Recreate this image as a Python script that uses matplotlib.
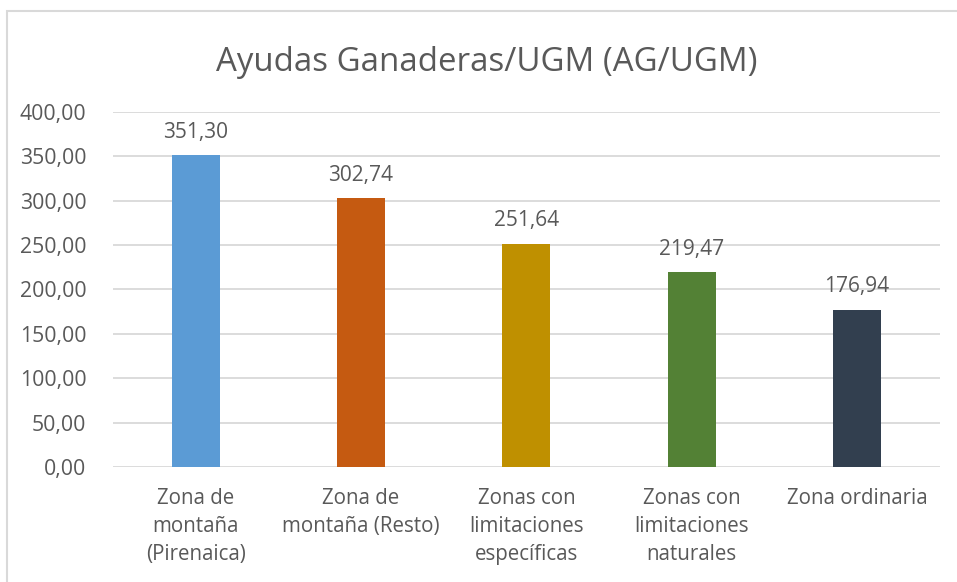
import matplotlib
import matplotlib.pyplot as plt
from matplotlib.patches import Rectangle

matplotlib.use("Agg")

categories = [
    "Zona de\nmontaña\n(Pirenaica)",
    "Zona de\nmontaña (Resto)",
    "Zonas con\nlimitaciones\nespecíficas",
    "Zonas con\nlimitaciones\nnaturales",
    "Zona ordinaria",
]
values = [351.30, 302.74, 251.64, 219.47, 176.94]
colors = ["#5B9BD5", "#C55A11", "#BF9000", "#538135", "#323F4F"]
yticks = [0, 50, 100, 150, 200, 250, 300, 350, 400]

text_color = "#595959"
grid_color = "#D9D9D9"


def fmt(v):
    return f"{v:.2f}".replace(".", ",")


plt.rcParams["font.family"] = ["Open Sans", "DejaVu Sans"]

fig = plt.figure(figsize=(9.57, 5.82), dpi=100)
ax = fig.add_axes([0.118, 0.1976, 0.864, 0.61])

x = list(range(len(values)))
bars = ax.bar(x, values, width=0.29, color=colors, zorder=3)

for b, v in zip(bars, values):
    ax.annotate(fmt(v), (b.get_x() + b.get_width() / 2, v),
                xytext=(0, 9), textcoords="offset points",
                ha="center", va="bottom", fontsize=15, color=text_color)

ax.set_xlim(-0.5, len(values) - 0.5)
ax.set_ylim(0, 400)
ax.set_yticks(yticks)
ax.set_yticklabels([fmt(t) for t in yticks], fontsize=15.3, color=text_color)
ax.set_xticks(x)
ax.set_xticklabels(categories, fontsize=14.8, color=text_color, linespacing=1.45, va="top")
ax.tick_params(axis="both", length=0)
ax.tick_params(axis="y", pad=19)
ax.tick_params(axis="x", pad=15)

ax.grid(axis="y", color=grid_color, linewidth=1.3, zorder=0)
for s in ax.spines.values():
    s.set_visible(False)

fig.text(0.509, 0.893, "Ayudas Ganaderas/UGM (AG/UGM)", ha="center", va="center",
         fontsize=23.8, color=text_color)

# outer chart frame, cut off at right and bottom
fig.patches.append(Rectangle((0.0073, -0.05), 1.1, 1.031, transform=fig.transFigure,
                             fill=False, edgecolor=grid_color, linewidth=1.5))

fig.savefig("out.png", dpi=100)
